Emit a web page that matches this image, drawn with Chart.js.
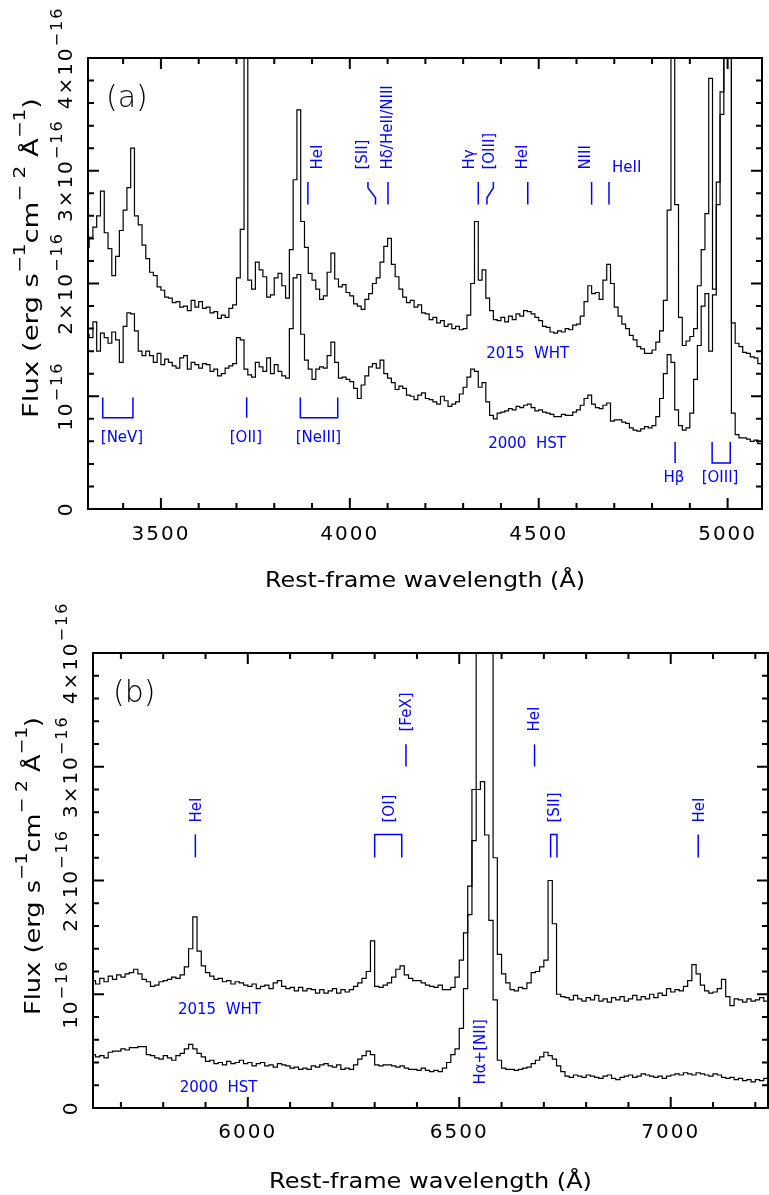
<!DOCTYPE html>
<html>
<head>
<meta charset="utf-8">
<script src="https://cdn.jsdelivr.net/npm/chart.js@4.4.1/dist/chart.umd.min.js"></script>
<style>
  html, body { margin: 0; padding: 0; background: #fff; }
  #wrap { position: relative; width: 769px; height: 1195px; }
  canvas { position: absolute; left: 0; }
  #chartA { top: 0; }
  #chartB { top: 600px; }
</style>
</head>
<body>
<div id="wrap">
  <canvas id="chartA" width="769" height="600"></canvas>
  <canvas id="chartB" width="769" height="595"></canvas>
</div>
<script>
// Flux in units of 1e-16 erg/s/cm2/A, 10 A bins
// panel (a): bins centred on 3305, 3315, ... 5095
const waveStartA = 3305;
const waveStepA = 10;
const fluxWhtA = [
  2.32, 2.41, 2.50, 2.60, 2.82, 2.45, 2.31, 2.07, 2.24, 2.47,
  2.65, 2.85, 3.20, 2.60, 2.52, 2.34, 2.22, 2.10, 2.07, 1.97,
  1.94, 1.88, 1.87, 1.83, 1.84, 1.79, 1.80, 1.76, 1.85, 1.79,
  1.84, 1.78, 1.79, 1.74, 1.75, 1.69, 1.72, 1.70, 1.78, 1.81,
  2.05, 2.48, 4.60, 2.03, 1.95, 2.19, 2.12, 2.06, 1.88, 1.90,
  2.05, 2.09, 1.98, 1.87, 2.30, 2.92, 3.54, 2.55, 2.32, 2.09,
  2.03, 1.95, 1.86, 1.89, 2.10, 2.27, 2.04, 1.97, 1.99, 1.92,
  1.89, 1.82, 1.80, 1.77, 1.86, 1.91, 2.00, 2.05, 2.19, 2.33,
  2.40, 2.17, 2.06, 1.95, 1.88, 1.83, 1.85, 1.79, 1.81, 1.74,
  1.73, 1.68, 1.70, 1.65, 1.67, 1.62, 1.64, 1.60, 1.62, 1.59,
  1.60, 1.72, 2.00, 2.55, 2.03, 2.12, 1.87, 1.76, 1.68, 1.67,
  1.70, 1.66, 1.71, 1.68, 1.73, 1.71, 1.76, 1.75, 1.73, 1.70,
  1.67, 1.62, 1.61, 1.57, 1.56, 1.58, 1.57, 1.60, 1.59, 1.63,
  1.64, 1.71, 1.84, 1.98, 1.91, 1.92, 1.86, 2.03, 2.17, 2.00,
  1.79, 1.71, 1.64, 1.60, 1.54, 1.50, 1.44, 1.42, 1.38, 1.38,
  1.41, 1.48, 1.58, 1.85, 2.65, 4.60, 2.70, 1.70, 1.45, 1.49,
  1.53, 1.60, 1.98, 2.30, 2.62, 3.82, 1.95, 2.70, 3.50, 4.60,
  4.60, 1.65, 1.47, 1.44, 1.39, 1.38, 1.35, 1.34, 1.29, 1.28
];
const fluxHstA = [
  1.55, 1.52, 1.66, 1.40, 1.56, 1.52, 1.47, 1.57, 1.50, 1.30,
  1.62, 1.74, 1.73, 1.58, 1.40, 1.36, 1.40, 1.36, 1.30, 1.38,
  1.28, 1.33, 1.30, 1.27, 1.25, 1.34, 1.36, 1.24, 1.30, 1.28,
  1.25, 1.29, 1.28, 1.22, 1.24, 1.18, 1.20, 1.25, 1.27, 1.29,
  1.52, 1.50, 1.24, 1.19, 1.17, 1.30, 1.26, 1.22, 1.34, 1.20,
  1.28, 1.22, 1.18, 1.16, 1.60, 2.05, 2.08, 1.55, 1.32, 1.24,
  1.15, 1.24, 1.26, 1.25, 1.36, 1.48, 1.30, 1.16, 1.17, 1.15,
  1.13, 1.07, 0.98, 1.10, 1.18, 1.26, 1.29, 1.25, 1.32, 1.20,
  1.16, 1.12, 1.06, 1.09, 1.07, 1.01, 1.00, 0.97, 1.01, 1.03,
  0.98, 0.97, 0.95, 0.93, 1.00, 0.96, 0.91, 0.93, 0.95, 1.02,
  1.08, 1.17, 1.24, 1.22, 1.08, 1.12, 0.95, 0.83, 0.80, 0.85,
  0.86, 0.87, 0.89, 0.88, 0.91, 0.90, 0.92, 0.93, 0.90, 0.87,
  0.88, 0.86, 0.85, 0.84, 0.82, 0.82, 0.84, 0.83, 0.83, 0.86,
  0.88, 0.92, 0.98, 1.01, 0.93, 0.90, 0.89, 0.92, 0.94, 0.78,
  0.79, 0.79, 0.77, 0.76, 0.72, 0.70, 0.69, 0.71, 0.73, 0.72,
  0.74, 0.82, 0.98, 1.20, 1.37, 1.30, 0.88, 0.74, 0.70, 0.72,
  0.85, 1.15, 1.45, 1.80, 1.91, 1.40, 1.90, 2.90, 3.70, 4.30,
  4.10, 0.85, 0.66, 0.63, 0.63, 0.62, 0.60, 0.61, 0.58, 0.57
];

// panel (b): bins centred on 5635, 5645, ... 7235
const waveStartB = 5635;
const waveStepB = 10;
const fluxWhtB = [
  1.12, 1.09, 1.14, 1.11, 1.16, 1.13, 1.17, 1.15, 1.18, 1.19,
  1.22, 1.18, 1.13, 1.11, 1.07, 1.08, 1.11, 1.12, 1.13, 1.15,
  1.14, 1.17, 1.24, 1.40, 1.68, 1.38, 1.25, 1.19, 1.16, 1.13,
  1.14, 1.11, 1.12, 1.09, 1.11, 1.10, 1.08, 1.07, 1.09, 1.05,
  1.07, 1.08, 1.05, 1.10, 1.12, 1.07, 1.05, 1.06, 1.03, 1.06,
  1.03, 1.05, 1.04, 1.01, 1.04, 1.01, 1.03, 1.05, 1.01, 1.04,
  1.02, 1.04, 1.07, 1.10, 1.14, 1.20, 1.47, 1.07, 1.06, 1.08,
  1.10, 1.15, 1.22, 1.25, 1.17, 1.14, 1.12, 1.12, 1.10, 1.08,
  1.07, 1.06, 1.08, 1.04, 1.04, 1.06, 1.15, 1.30, 1.54, 1.95,
  2.80, 4.60, 4.60, 4.60, 4.60, 2.20, 1.35, 1.18, 1.10, 1.04,
  1.03, 1.06, 1.05, 1.10, 1.19, 1.20, 1.24, 1.30, 2.00, 1.62,
  1.00, 0.98, 0.97, 0.95, 0.99, 0.96, 0.94, 0.97, 0.95, 0.99,
  0.94, 0.96, 0.93, 0.97, 0.95, 0.98, 0.94, 0.96, 0.99, 0.95,
  0.98, 0.96, 1.00, 0.97, 1.01, 0.99, 1.05, 1.02, 1.04, 1.03,
  1.07, 1.12, 1.26, 1.18, 1.08, 1.03, 1.01, 1.02, 1.05, 1.13,
  0.98, 0.90, 0.96, 0.95, 0.93, 0.96, 0.94, 0.95, 0.97, 0.94,
  0.98
];
const fluxHstB = [
  0.47, 0.45, 0.46, 0.44, 0.49, 0.50, 0.50, 0.52, 0.51, 0.53,
  0.53, 0.54, 0.54, 0.47, 0.46, 0.44, 0.43, 0.46, 0.44, 0.42,
  0.46, 0.48, 0.52, 0.56, 0.52, 0.48, 0.45, 0.41, 0.42, 0.39,
  0.40, 0.38, 0.41, 0.39, 0.40, 0.42, 0.39, 0.40, 0.37, 0.39,
  0.40, 0.37, 0.38, 0.36, 0.39, 0.38, 0.37, 0.35, 0.36, 0.34,
  0.35, 0.34, 0.37, 0.36, 0.38, 0.39, 0.37, 0.36, 0.38, 0.34,
  0.35, 0.34, 0.38, 0.43, 0.46, 0.50, 0.47, 0.38, 0.37, 0.38,
  0.38, 0.37, 0.36, 0.37, 0.35, 0.34, 0.34, 0.33, 0.35, 0.33,
  0.32, 0.33, 0.32, 0.35, 0.40, 0.47, 0.52, 0.70, 1.05, 1.70,
  2.35, 2.80, 2.87, 2.40, 1.65, 0.95, 0.42, 0.35, 0.34, 0.34,
  0.33, 0.34, 0.35, 0.36, 0.39, 0.42, 0.45, 0.49, 0.46, 0.43,
  0.37, 0.32, 0.28, 0.27, 0.29, 0.28, 0.27, 0.29, 0.28, 0.27,
  0.26, 0.28, 0.29, 0.26, 0.25, 0.27, 0.28, 0.29, 0.27, 0.28,
  0.30, 0.29, 0.28, 0.27, 0.28, 0.26, 0.28, 0.29, 0.30, 0.29,
  0.31, 0.30, 0.29, 0.31, 0.30, 0.29, 0.28, 0.30, 0.29, 0.27,
  0.26, 0.27, 0.25, 0.26, 0.24, 0.25, 0.23, 0.25, 0.24, 0.26,
  0.27
];

const xTicksA = [3500, 4000, 4500, 5000];
const xTicksB = [6000, 6500, 7000];
const yTicks = [0, 1, 2, 3, 4];   // x 1e-16

const FONT = "'DejaVu Sans', 'Liberation Sans', sans-serif";
const BLUE = '#0000ff';

// text made of pieces, some of them superscript; can be rotated and stretched
function richText(ctx, parts, x, y, o) {
  const size = o.size;
  const supSize = o.supSize || Math.round(size * 0.78);
  ctx.save();
  ctx.translate(x, y);
  if (o.rotate) ctx.rotate(-Math.PI / 2);
  ctx.fillStyle = o.color || '#000';
  ctx.textAlign = 'left';
  ctx.textBaseline = 'alphabetic';
  ctx.letterSpacing = (o.spacing || 0) + 'px';
  const fontOf = p => (o.weight || 400) + ' ' + (p[1] ? supSize : size) + 'px ' + FONT;
  const widths = parts.map(p => { ctx.font = fontOf(p); return ctx.measureText(p[0]).width; });
  const total = widths.reduce((a, b) => a + b, 0);
  const sx = o.length ? o.length / total : 1;
  let x0 = 0;
  if (o.align === 'center') x0 = -total * sx / 2;
  ctx.translate(x0, 0);
  ctx.scale(sx, 1);
  let cx = 0;
  parts.forEach((p, i) => {
    ctx.font = fontOf(p);
    ctx.fillText(p[0], cx, p[1] ? -(o.raise || size * 0.5) : 0);
    cx += widths[i];
  });
  ctx.restore();
}

function yLabel(v) {
  if (v === 0) return [['0']];
  if (v === 1) return [['10'], ['−16', 1]];
  return [[v + '×10'], ['−16', 1]];
}

// frame, inward ticks, tick labels and titles
function drawAxes(chart, o) {
  const ctx = chart.ctx;
  const a = chart.chartArea;
  const xs = chart.scales.x, ys = chart.scales.y;
  ctx.save();
  ctx.strokeStyle = '#000';
  ctx.lineWidth = 2;
  ctx.strokeRect(a.left, a.top, a.right - a.left, a.bottom - a.top);
  ctx.beginPath();
  for (let w = Math.ceil(xs.min / 100) * 100; w <= xs.max; w += 100) {
    const px = xs.getPixelForValue(w);
    const len = w % 500 === 0 ? 11 : 6;
    ctx.moveTo(px, a.bottom); ctx.lineTo(px, a.bottom - len);
    ctx.moveTo(px, a.top); ctx.lineTo(px, a.top + len);
  }
  for (let k = 1; k < 20; k++) {
    const py = ys.getPixelForValue(k * 0.2);
    const len = k % 5 === 0 ? 11 : 6;
    ctx.moveTo(a.left, py); ctx.lineTo(a.left + len, py);
    ctx.moveTo(a.right, py); ctx.lineTo(a.right - len, py);
  }
  ctx.stroke();
  ctx.restore();

  o.xTicks.forEach(t => {
    richText(ctx, [[String(t)]], xs.getPixelForValue(t), o.xLabelY, { size: 20, align: 'center', spacing: 2 });
  });
  yTicks.forEach(v => {
    richText(ctx, yLabel(v), o.yLabelX, ys.getPixelForValue(v),
      { size: 20, rotate: true, align: 'center', spacing: 2, supSize: 16, raise: 10 });
  });
  richText(ctx, [['Rest-frame wavelength (Å)']], (a.left + a.right) / 2, o.xTitleY,
    { size: 22, align: 'center', length: o.xTitleLen });
  richText(ctx, [['Flux (erg s'], ['−1', 1], ['cm'], ['− 2', 1], [' Å'], ['−1', 1], [')']],
    o.yTitleX, o.yTitleY, { size: 22, rotate: true, length: o.yTitleLen, supSize: 16, raise: 13 });
  richText(ctx, [[o.tag]], o.tagX, o.tagY, { size: 30, weight: 200 });
}

function makeChart(id, start, step, wht, hst, xmin, xmax, pad, axisOpts, notes) {
  const pts = arr => arr.map((v, i) => ({ x: start + i * step, y: v }));
  const line = arr => ({
    data: pts(arr), borderColor: '#000', borderWidth: 1.2,
    stepped: 'middle', pointRadius: 0, fill: false
  });
  return new Chart(document.getElementById(id).getContext('2d'), {
    type: 'line',
    data: { datasets: [line(wht), line(hst)] },
    options: {
      animation: false, responsive: false, events: [],
      layout: { padding: pad },
      plugins: { legend: { display: false }, tooltip: { enabled: false } },
      scales: {
        x: { type: 'linear', min: xmin, max: xmax, display: false },
        y: { min: 0, max: 4, display: false }
      }
    },
    plugins: [{
      id: 'decor',
      afterDraw(chart) {
        drawAxes(chart, axisOpts);
        notes(chart);
      }
    }]
  });
}

// line identifications
function noteTools(chart) {
  const ctx = chart.ctx;
  const X = w => chart.scales.x.getPixelForValue(w);
  const Y = f => chart.scales.y.getPixelForValue(f);
  const path = pts => {
    ctx.save();
    ctx.strokeStyle = BLUE; ctx.lineWidth = 1.5;
    ctx.beginPath();
    pts.forEach((p, i) => i ? ctx.lineTo(X(p[0]), Y(p[1])) : ctx.moveTo(X(p[0]), Y(p[1])));
    ctx.stroke();
    ctx.restore();
  };
  const up = (s, w, f) => richText(ctx, [[s]], X(w) + 5.5, Y(f), { size: 15, rotate: true, color: BLUE });
  const flat = (s, w, f) => richText(ctx, [[s]], X(w), Y(f), { size: 15, align: 'center', color: BLUE });
  const left = (s, w, f) => richText(ctx, [[s]], X(w), Y(f), { size: 15, color: BLUE });
  return { path, up, flat, left };
}

function notesA(chart) {
  const t = noteTools(chart);
  [3889, 4101, 4340, 4471, 4640, 4686].forEach(w => t.path([[w, 2.90], [w, 2.70]]));
  t.path([[4048, 2.90], [4048, 2.85], [4068, 2.76], [4068, 2.70]]);
  t.path([[4380, 2.90], [4380, 2.85], [4363, 2.76], [4363, 2.70]]);
  t.up('HeI', 3913, 3.01);
  t.up('[SII]', 4032, 3.01);
  t.up('Hδ/HeII/NIII', 4097, 3.01);
  t.up('Hγ', 4315, 3.01);
  t.up('[OIII]', 4366, 3.01);
  t.up('HeI', 4454, 3.01);
  t.up('NIII', 4622, 3.01);
  t.left('HeII', 4694, 2.99);

  t.path([[3346, 0.99], [3346, 0.81], [3426, 0.81], [3426, 0.99]]);
  t.path([[3727, 0.99], [3727, 0.81]]);
  t.path([[3869, 0.99], [3869, 0.81], [3968, 0.81], [3968, 0.99]]);
  t.path([[4861, 0.594], [4861, 0.408]]);
  t.path([[4959, 0.594], [4959, 0.408], [5007, 0.408], [5007, 0.594]]);
  t.flat('[NeV]', 3397, 0.594);
  t.flat('[OII]', 3725, 0.594);
  t.flat('[NeIII]', 3917, 0.594);
  t.flat('Hβ', 4858, 0.24);
  t.flat('[OIII]', 4980, 0.24);
  t.flat('2015  WHT', 4471, 1.34);
  t.flat('2000  HST', 4469, 0.54);
}

function notesB(chart) {
  const t = noteTools(chart);
  [5876, 7065].forEach(w => t.path([[w, 2.405], [w, 2.203]]));
  t.path([[6300, 2.203], [6300, 2.405], [6364, 2.405], [6364, 2.203]]);
  t.path([[6716, 2.203], [6716, 2.405], [6731, 2.405], [6731, 2.203]]);
  [6374, 6678].forEach(w => t.path([[w, 3.197], [w, 3.003]]));
  t.up('HeI', 5876, 2.51);
  t.up('[OI]', 6332, 2.51);
  t.up('[SII]', 6722, 2.51);
  t.up('HeI', 7065, 2.51);
  t.up('[FeX]', 6373, 3.31);
  t.up('HeI', 6676, 3.31);
  t.up('Hα+[NII]', 6549, 0.206);
  t.flat('2015  WHT', 5933, 0.822);
  t.flat('2000  HST', 5931, 0.145);
}

makeChart('chartA', waveStartA, waveStepA, fluxWhtA, fluxHstA, 3307, 5091,
  { left: 88, right: 7, top: 58, bottom: 91 },
  { xTicks: xTicksA, xLabelY: 540, yLabelX: 72, xTitleY: 587, xTitleLen: 320,
    yTitleX: 38, yTitleY: 418, yTitleLen: 320, tag: '(a)', tagX: 106, tagY: 107 },
  notesA);

makeChart('chartB', waveStartB, waveStepB, fluxWhtB, fluxHstB, 5634, 7230,
  { left: 93, right: 1, top: 53, bottom: 87 },
  { xTicks: xTicksB, xLabelY: 538, yLabelX: 77, xTitleY: 588, xTitleLen: 323,
    yTitleX: 40, yTitleY: 415, yTitleLen: 298, tag: '(b)', tagX: 113, tagY: 102 },
  notesB);
</script>
</body>
</html>
